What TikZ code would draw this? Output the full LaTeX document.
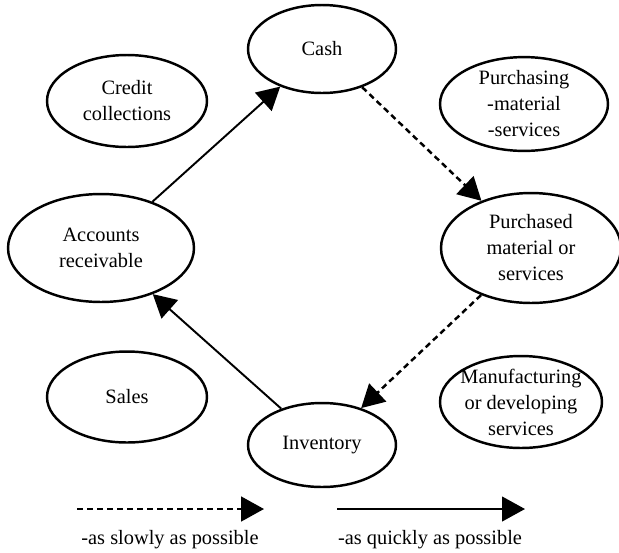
\documentclass[tikz,border=0pt]{standalone}
\usepackage{fontspec}
\setmainfont{Liberation Serif}
\usetikzlibrary{shapes.geometric, arrows.meta}

\begin{document}
\begin{tikzpicture}[x=0.02cm, y=-0.02cm,
        blob/.style={ellipse, draw, line width=1.4pt, inner sep=0pt, align=center,
                     font=\fontsize{11.6}{14.8}\selectfont},
        quick/.style={line width=1.1pt, -{Triangle[length=13pt, width=14pt]}},
        slow/.style={quick, line width=1.4pt, dash pattern=on 3.4pt off 2.3pt},
        legend/.style={font=\fontsize{11.6}{14.8}\selectfont}]
    \useasboundingbox (0,0) rectangle (619,552);
    % cycle
    \node[blob, minimum width=2.96cm, minimum height=1.76cm] (cash) at (322,49) {Cash};
    \node[blob, minimum width=3.6cm, minimum height=2.2cm] (bought) at (531,248) {Purchased\\material or\\services};
    \node[blob, minimum width=2.96cm, minimum height=1.68cm] (stock) at (322,445) {Inventory};
    \node[blob, minimum width=3.72cm, minimum height=2.16cm] (recv) at (101,248) {Accounts\\receivable};
    % side ellipses
    \node[blob, minimum width=3.2cm, minimum height=1.84cm] (credit) at (127,101) {Credit\\collections};
    \node[blob, minimum width=3.36cm, minimum height=1.76cm] (buying) at (524,104) {Purchasing\\-material\\-services};
    \node[blob, minimum width=3.2cm, minimum height=1.82cm] (sales) at (127,397) {Sales};
    \node[blob, inner sep=-2.5pt, minimum width=3.24cm, minimum height=1.84cm] (making) at (521,402) {Manufacturing\\or developing\\services};
    \path
    (recv) edge[quick] (cash)
    (cash) edge[slow] (bought)
    (bought) edge[slow] (stock)
    (stock) edge[quick] (recv);
    % legend
    \coordinate (slowA) at (77,509);
    \coordinate (slowB) at (264,509);
    \coordinate (quickA) at (337,509);
    \coordinate (quickB) at (525,509);
    \draw[slow] (slowA) -- (slowB);
    \draw[quick] (quickA) -- (quickB);
    \node[legend] (slowtxt) at (170,540) {-as slowly as possible};
    \node[legend] (quicktxt) at (430,540) {-as quickly as possible};
\end{tikzpicture}
\end{document}
